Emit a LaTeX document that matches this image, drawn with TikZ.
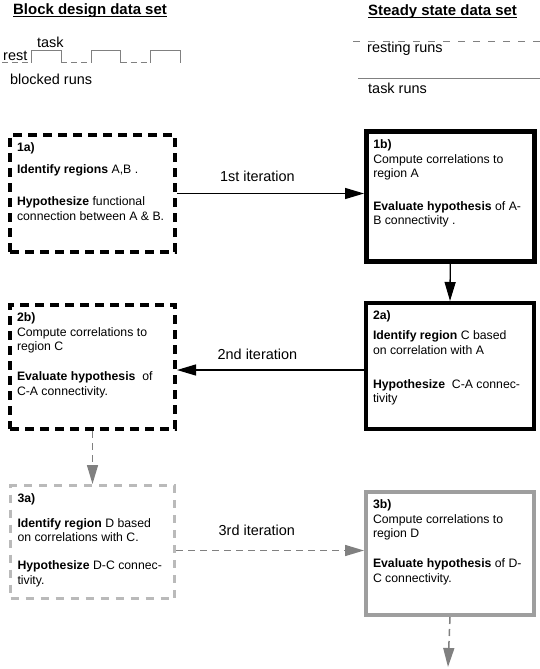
\documentclass[tikz,border=0pt]{standalone}
\usepackage{fontspec}
\setmainfont{Liberation Sans}
\usepackage{tikz}
\usetikzlibrary{arrows.meta}
\definecolor{wvwvwv}{rgb}{0.5,0.5,0.5}
\definecolor{bababa}{rgb}{0.73,0.73,0.73}
\definecolor{zzzzzz}{rgb}{0.62,0.62,0.62}
\definecolor{qqqqqq}{rgb}{0.,0.,0.}
\newcommand{\boxtext}[3]{\parbox[t][#2][t]{#1}{\raggedright\fontsize{12.3}{14.5}\selectfont #3}}
\tikzstyle{every node}=[font=\fontsize{14.5}{17}\selectfont]
\tikzset{
  stage/.style={draw, rectangle, anchor=north west, inner xsep=7bp, inner ysep=8bp, line width=#1},
  heading/.style={anchor=base west, inner sep=0pt, font=\fontsize{15}{18}\selectfont\bfseries},
  label/.style={anchor=base west, inner sep=0pt}
}

\begin{document}
\begin{tikzpicture}[line join=miter,>={Triangle[length=19bp,width=11bp]},x=1bp,y=-1bp]
                \useasboundingbox (0,0) rectangle (540,669);
                % headings
                \node [heading] (hblock) at (13,14.7) {Block design data set};
                \node [heading] (hsteady) at (368,15.6) {Steady state data set};
                \draw [line width=1bp] ([yshift=-1.8bp]hblock.base west) -- ([yshift=-1.8bp]hblock.base east);
                \draw [line width=1bp] ([yshift=-1.8bp]hsteady.base west) -- ([yshift=-1.8bp]hsteady.base east);
                % blocked runs
                \draw [color=wvwvwv,line width=1bp,dash pattern=on 6bp off 4bp] (2,62.7) -- (31.5,62.7);
                \draw [color=wvwvwv,line width=1bp,dash pattern=on 6bp off 4bp] (61,62.7) -- (91,62.7);
                \draw [color=wvwvwv,line width=1bp,dash pattern=on 6bp off 4bp] (120.5,62.7) -- (150.5,62.7);
                \foreach \xa in {31.5,91,150.5}
                    \draw [color=wvwvwv,line width=1bp] (\xa,62.7) -- ++(0,-12) -- ++(29.5,0) -- ++(0,12);
                \node [label] (rest) at (3,61) {rest};
                \node [label] (task) at (37,47.5) {task};
                \node [label] (blocked) at (10,84.5) {blocked runs};
                % steady runs
                \draw [color=wvwvwv,line width=1bp,dash pattern=on 7bp off 8bp] (353,42) -- (540,42);
                \draw [color=wvwvwv,line width=1bp] (358,79) -- (540,79);
                \node [label] (resting) at (367,52.5) {resting runs};
                \node [label] (taskruns) at (368,93.5) {task runs};
                % boxes
                \node [stage=4bp,dash pattern=on 9bp off 6bp] (b1a) at (8,133) {\boxtext{151bp}{101bp}{\textbf{1a)}\\[7.5bp]\textbf{Identify regions} A,B .\\[17.5bp]\textbf{Hypothesize} functional\\connection between A \& B.}};
                \node [stage=4.5bp] (b1b) at (364,129) {\boxtext{154bp}{114bp}{\textbf{1b)}\\[0.5bp]Compute correlations to\\region A\\[18.5bp]\textbf{Evaluate hypothesis} of A-\\B connectivity .}};
                \node [stage=4bp] (b2a) at (364,301) {\boxtext{154bp}{110bp}{\textbf{2a)}\\[5.5bp]\textbf{Identify region} C based\\on correlation with A\\[19.5bp]\textbf{Hypothesize}\ \ C-A connec-\\tivity}};
                \node [stage=4bp,dash pattern=on 9bp off 6bp] (b2b) at (8,303) {\boxtext{151bp}{108bp}{\textbf{2b)}\\Compute correlations to\\region C\\[15.5bp]\textbf{Evaluate hypothesis}\ \ of\\C-A connectivity.}};
                \node [stage=3bp,color=bababa,text=qqqqqq,dash pattern=on 8bp off 7bp] (b3a) at (9,484) {\boxtext{150bp}{97bp}{\textbf{3a)}\\[10.5bp]\textbf{Identify region} D based\\on correlations with C.\\[13.5bp]\textbf{Hypothesize} D-C connec-\\tivity.}};
                \node [stage=4bp,color=zzzzzz,text=qqqqqq] (b3b) at (364,490) {\boxtext{154bp}{107bp}{\textbf{3b)}\\Compute correlations to\\region D\\[15.5bp]\textbf{Evaluate hypothesis} of D-\\C connectivity.}};
                \coordinate (out) at (448,667);
                % iterations
                \draw [->,line width=1.3bp] (b1a.east) -- (b1a.east -| b1b.west) node [pos=0.43, yshift=17bp] (it1) {1st iteration};
                \draw [->,line width=1.3bp] (b1b.south) -- (b2a.north);
                \draw [->,line width=1.3bp] ([yshift=-4bp]b2a.west) -- ([yshift=-4bp]b2a.west -| b2b.east) node [pos=0.57, yshift=16bp] (it2) {2nd iteration};
                \draw [->,color=wvwvwv,line width=1.5bp,dash pattern=on 7bp off 5bp] (b2b.south) -- (b3a.north);
                \draw [->,color=wvwvwv,line width=1.5bp,dash pattern=on 7bp off 5bp] ([yshift=-8.5bp]b3a.east) -- ([yshift=-8.5bp]b3a.east -| b3b.west) node [pos=0.43, yshift=20bp, text=qqqqqq] (it3) {3rd iteration};
                \draw [->,color=wvwvwv,line width=1.5bp,dash pattern=on 7bp off 5bp] (b3b.south) -- (out);
            \end{tikzpicture}
\end{document}
